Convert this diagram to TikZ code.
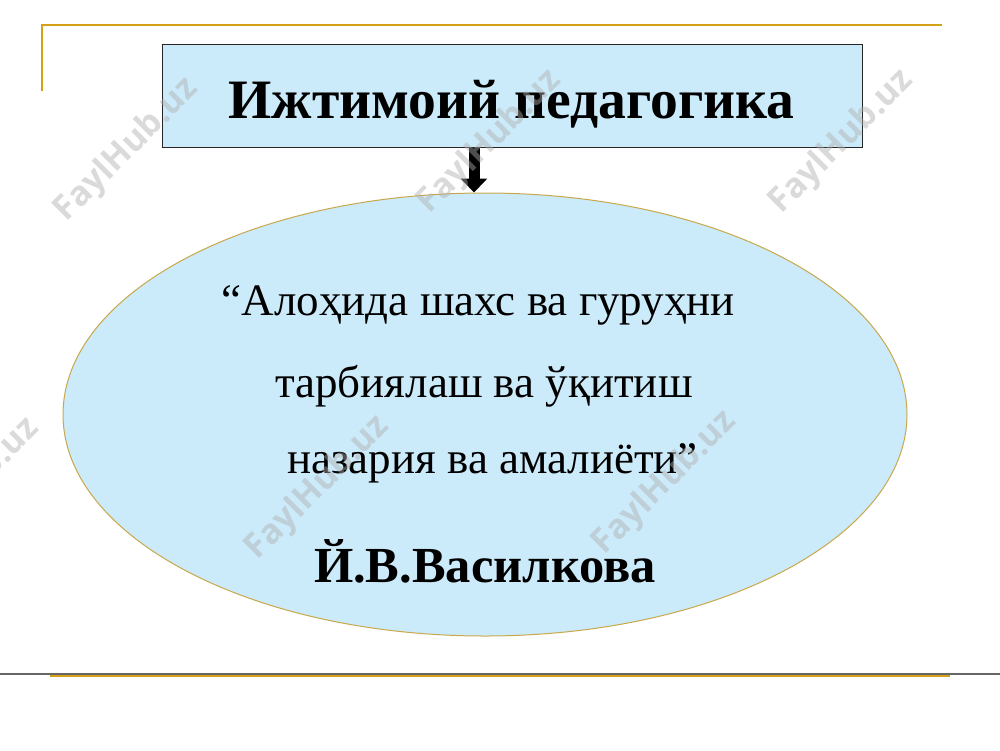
\documentclass[tikz,border=0pt]{standalone}
\usepackage{fontspec}
\setmainfont{Liberation Serif}
\newfontfamily\wmfont{Open Sans}
\usetikzlibrary{shapes.geometric,arrows.meta}
\definecolor{boxblue}{RGB}{204,235,250}
\definecolor{goldline}{RGB}{212,160,23}
\definecolor{ellgold}{RGB}{200,168,75}
\definecolor{wmgray}{RGB}{175,175,175}
\tikzset{
  titlebox/.style={draw=black!85, line width=1pt, fill=boxblue, minimum width=700pt, minimum height=103pt, inner sep=0pt},
  bubble/.style={ellipse, draw=ellgold, line width=1pt, fill=boxblue, minimum width=844pt, minimum height=443pt, inner sep=0pt},
  bodytext/.style={anchor=base, inner sep=0pt, font=\fontsize{45}{48}\selectfont},
  boldtext/.style={anchor=base, inner sep=0pt, font=\fontsize{50.5}{54}\selectfont\bfseries},
  titletext/.style={anchor=base, inner sep=0pt, font=\fontsize{55.6}{60}\selectfont\bfseries},
  goldrule/.style={draw=goldline, line width=2pt},
  watermark/.style={rotate=45, text=wmgray, opacity=0.45, inner sep=0pt, font=\fontsize{34}{34}\wmfont\bfseries},
  bigarrow/.style={line width=11pt, -{Triangle[width=26pt,length=14pt]}}
}
\begin{document}
\begin{tikzpicture}[x=1pt,y=-1pt]
\useasboundingbox (0,0) rectangle (1000,750);
\fill[white] (0,0) rectangle (1000,750);
% frame rules
\coordinate (tl) at (42,25);
\coordinate (tr) at (942,25);
\coordinate (tlv) at (42,91);
\draw[goldrule] (tlv) -- (tl) -- (tr);
\coordinate (gl) at (0,674);
\coordinate (gr) at (1000,674);
\draw[draw=gray!80!black, line width=1.5pt] (gl) -- (gr);
\coordinate (bl) at (50,676);
\coordinate (br) at (950,676);
\draw[goldrule] (bl) -- (br);
% shapes
\node[titlebox] (box) at (512,95.5) {};
\node[titletext] (title) at (511.5,118) {Ижтимоий педагогика};
\node[bubble] (ell) at (485,414.5) {};
\coordinate (ax) at (474,0);
\draw[bigarrow] (box.south -| ax) -- (ell.north -| ax);
% text
\node[bodytext] (l1) at (478.5,315) {“Алоҳида шахс ва гуруҳни};
\node[bodytext] (l2) at (484,397) {тарбиялаш ва ўқитиш};
\node[bodytext] (l3) at (492.5,473) {назария ва амалиёти”};
\node[boldtext] (name) at (485,582) {Й.В.Василкова};
% watermarks
\begin{scope}
\clip (0,0) rectangle (1000,750);
\node[watermark] (w1) at (127,150) {FaylHub.uz};
\node[watermark] (w2) at (490,142) {FaylHub.uz};
\node[watermark] (w3) at (842,142) {FaylHub.uz};
\node[watermark] (w4) at (-32,490) {FaylHub.uz};
\node[watermark] (w5) at (318,488) {FaylHub.uz};
\node[watermark] (w6) at (665,483) {FaylHub.uz};
\end{scope}
\end{tikzpicture}
\end{document}
